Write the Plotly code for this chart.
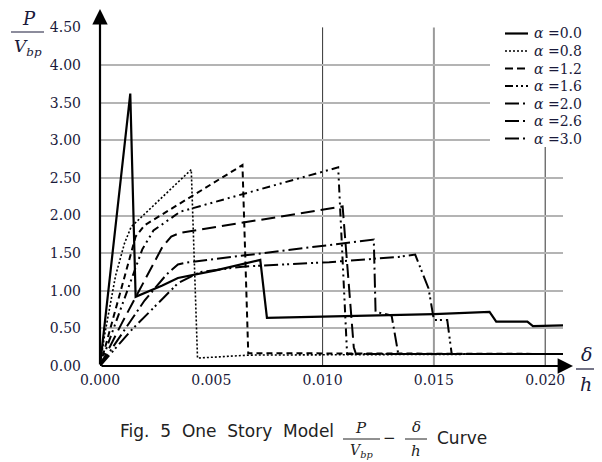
import plotly.graph_objects as go

# ---------------- data ----------------
names = ["α =0.0", "α =0.8", "α =1.2", "α =1.6", "α =2.0", "α =2.6", "α =3.0"]

x_a00 = [0, 0.00136, 0.0016, 0.0028, 0.0035, 0.0052, 0.0072, 0.0075, 0.010, 0.015, 0.0175, 0.0178, 0.0192, 0.01945, 0.0208]
y_a00 = [0, 3.62, 0.92, 1.07, 1.17, 1.27, 1.41, 0.64, 0.655, 0.69, 0.72, 0.59, 0.59, 0.53, 0.54]

x_a08 = [0, 0.0002, 0.0007, 0.0011, 0.0014, 0.0041, 0.00438, 0.0067, 0.0208]
y_a08 = [0, 0.40, 1.20, 1.63, 1.85, 2.61, 0.105, 0.145, 0.16]

x_a12 = [0, 0.0008, 0.0016, 0.0020, 0.0036, 0.0064, 0.00666, 0.0208]
y_a12 = [0, 0.85, 1.72, 1.87, 2.16, 2.67, 0.17, 0.16]

x_a16 = [0, 0.0019, 0.0024, 0.0036, 0.0107, 0.0111, 0.0208]
y_a16 = [0, 1.55, 1.80, 2.05, 2.64, 0.16, 0.16]

x_a20 = [0, 0.0010, 0.0028, 0.0032, 0.0036, 0.0109, 0.0114, 0.0115, 0.0208]
y_a20 = [0, 0.58, 1.58, 1.72, 1.77, 2.12, 0.25, 0.16, 0.16]

x_a26 = [0, 0.0020, 0.0030, 0.0035, 0.0040, 0.0123, 0.01238, 0.0131, 0.0134, 0.0208]
y_a26 = [0, 0.87, 1.22, 1.35, 1.38, 1.68, 0.72, 0.67, 0.16, 0.16]

x_a30 = [0, 0.00142, 0.0029, 0.0035, 0.0045, 0.0064, 0.0103, 0.0134, 0.01416, 0.01476, 0.0150, 0.0156, 0.0158, 0.0208]
y_a30 = [0, 0.48, 0.92, 1.10, 1.25, 1.32, 1.38, 1.45, 1.48, 1.03, 0.61, 0.61, 0.16, 0.16]

x_ticks = [0.0, 0.005, 0.010, 0.015, 0.020]
x_ticklabels = ["0.000", "0.005", "0.010", "0.015", "0.020"]
y_ticks = [0.0, 0.5, 1.0, 1.5, 2.0, 2.5, 3.0, 3.5, 4.0, 4.5]
y_ticklabels = ["0.00", "0.50", "1.00", "1.50", "2.00", "2.50", "3.00", "3.50", "4.00", "4.50"]
vgrid_x = [0.010, 0.015, 0.020]

series_x = [x_a00, x_a08, x_a12, x_a16, x_a20, x_a26, x_a30]
series_y = [y_a00, y_a08, y_a12, y_a16, y_a20, y_a26, y_a30]

dashes = ["solid", "2px,2px", "6px,4px", "8px,4px,2px,4px,2px,4px", "14px,6px",
          "14px,4px,2px,4px", "14px,4px,2px,3px,2px,4px"]
leg_dashes = ["solid", "2px,2px", "8px,4px", "8px,3px,2px,3px,2px,3px", "14px,4px,2px,4px",
              "14px,4px,2px,4px", "14px,4px,2px,4px"]
widths = [2.2, 1.6, 2.0, 2.0, 2.0, 2.0, 2.0]

# ---------------- layout helpers (page pixel coords; page has 8px body margin) ----------------
OFF = 8
W, H = 602 - OFF, 462 - OFF
L, R, T, B = 100, 563, 27, 366   # plot area in page pixels


def xp(px):
    return (px - L) / (R - L)


def yp(py):
    return (B - py) / (B - T)


TXT = "#1a1a3a"
SERIF = "DejaVu Serif"

fig = go.Figure()
for nm, xs, ys, d, w in zip(names, series_x, series_y, dashes, widths):
    fig.add_trace(go.Scatter(
        x=xs, y=ys, mode="lines", name=nm, showlegend=False,
        line=dict(color="black", width=w, dash=d),
    ))

shapes = []
vcol = ["#333333", "#9a9a9a", "#333333"]
vw = [1, 2, 1]
for vx, c, w in zip(vgrid_x, vcol, vw):
    shapes.append(dict(type="line", xref="x", yref="y", x0=vx, x1=vx, y0=0, y1=4.5,
                       line=dict(color=c, width=w), layer="below"))

# legend background (covers gridlines)
shapes.append(dict(type="rect", xref="paper", yref="paper", x0=xp(490), x1=xp(600), y0=yp(147), y1=yp(18),
                   fillcolor="white", line=dict(width=0), layer="above"))

ann = []
# manual legend
leg_y0, leg_dy = 33.5, 17.5
for i, (nm, d, w) in enumerate(zip(names, leg_dashes, widths)):
    yy = leg_y0 + i * leg_dy
    shapes.append(dict(type="line", xref="paper", yref="paper", x0=xp(505), x1=xp(528), y0=yp(yy), y1=yp(yy),
                       line=dict(color="black", width=w, dash=d), layer="above"))
    ann.append(dict(x=xp(532), y=yp(yy), xref="paper", yref="paper",
                    text="<i>α</i> =" + nm.split("=")[1], showarrow=False,
                    font=dict(family=SERIF, size=14, color=TXT), xanchor="left", yanchor="middle"))

# fraction bars
shapes.append(dict(type="line", xref="paper", yref="paper", x0=xp(11), x1=xp(44), y0=yp(32), y1=yp(32),
                   line=dict(color=TXT, width=1.2)))
shapes.append(dict(type="line", xref="paper", yref="paper", x0=xp(576), x1=xp(596), y0=yp(369), y1=yp(369),
                   line=dict(color=TXT, width=1.2)))
shapes.append(dict(type="line", xref="paper", yref="paper", x0=xp(343), x1=xp(380), y0=yp(439), y1=yp(439),
                   line=dict(color="#222222", width=1)))
shapes.append(dict(type="line", xref="paper", yref="paper", x0=xp(405), x1=xp(427), y0=yp(439), y1=yp(439),
                   line=dict(color="#222222", width=1)))

# axis arrows
ann.append(dict(x=0, xref="x", y=yp(5), yref="paper", ax=0, ay=B - 5, axref="pixel", ayref="pixel",
                text="", showarrow=True, arrowhead=2, arrowsize=1.4, arrowwidth=2.2, arrowcolor="black"))
ann.append(dict(x=xp(573), xref="paper", y=0, yref="y", ax=-(573 - L), ay=0, axref="pixel", ayref="pixel",
                text="", showarrow=True, arrowhead=2, arrowsize=1.4, arrowwidth=2.2, arrowcolor="black"))
# y title fraction
ann.append(dict(x=xp(29), y=yp(19), xref="paper", yref="paper", text="<i>P</i>", showarrow=False,
                font=dict(family=SERIF, size=18, color=TXT), xanchor="center", yanchor="middle"))
ann.append(dict(x=xp(28), y=yp(47), xref="paper", yref="paper", text="<i>V<sub>bp</sub></i>", showarrow=False,
                font=dict(family=SERIF, size=17, color=TXT), xanchor="center", yanchor="middle"))
# x title fraction
ann.append(dict(x=xp(586), y=yp(354), xref="paper", yref="paper", text="<i>δ</i>", showarrow=False,
                font=dict(family=SERIF, size=19, color=TXT), xanchor="center", yanchor="middle"))
ann.append(dict(x=xp(586), y=yp(384), xref="paper", yref="paper", text="<i>h</i>", showarrow=False,
                font=dict(family=SERIF, size=19, color=TXT), xanchor="center", yanchor="middle"))
# caption
CAP = dict(family="DejaVu Sans", size=17, color="#222222")
ann.append(dict(x=xp(336), y=yp(431), xref="paper", yref="paper",
                text="Fig. \u00a05 \u00a0One \u00a0Story \u00a0Model",
                showarrow=False, font=CAP, xanchor="right", yanchor="middle"))
ann.append(dict(x=xp(361), y=yp(428), xref="paper", yref="paper", text="<i>P</i>", showarrow=False,
                font=dict(family=SERIF, size=15, color="#222222"), xanchor="center", yanchor="middle"))
ann.append(dict(x=xp(361), y=yp(451), xref="paper", yref="paper", text="<i>V<sub>bp</sub></i>", showarrow=False,
                font=dict(family=SERIF, size=14, color="#222222"), xanchor="center", yanchor="middle"))
ann.append(dict(x=xp(389), y=yp(438), xref="paper", yref="paper", text="−", showarrow=False,
                font=dict(family=SERIF, size=15, color="#222222"), xanchor="center", yanchor="middle"))
ann.append(dict(x=xp(416), y=yp(427), xref="paper", yref="paper", text="<i>δ</i>", showarrow=False,
                font=dict(family=SERIF, size=15, color="#222222"), xanchor="center", yanchor="middle"))
ann.append(dict(x=xp(416), y=yp(451), xref="paper", yref="paper", text="<i>h</i>", showarrow=False,
                font=dict(family=SERIF, size=15, color="#222222"), xanchor="center", yanchor="middle"))
ann.append(dict(x=xp(435), y=yp(438), xref="paper", yref="paper", text="Curve",
                showarrow=False, font=CAP, xanchor="left", yanchor="middle"))

fig.update_layout(
    width=W, height=H,
    margin=dict(l=L - OFF, r=W - (R - OFF), t=T - OFF, b=H - (B - OFF), pad=0),
    plot_bgcolor="white", paper_bgcolor="white",
    shapes=shapes, annotations=ann,
    showlegend=False,
    xaxis=dict(range=[0, 0.0208], tickvals=x_ticks, ticktext=x_ticklabels, showgrid=False,
               zeroline=False, showline=False, ticks="", ticklabelstandoff=4,
               tickfont=dict(family=SERIF, size=14, color=TXT)),
    yaxis=dict(range=[0, 4.505], tickvals=y_ticks, ticktext=y_ticklabels, showgrid=True,
               gridcolor="#b4b4b4", gridwidth=1.5, zeroline=False, showline=False, ticks="",
               ticklabelstandoff=18, tickfont=dict(family=SERIF, size=14, color=TXT)),
)

fig.write_html("out.html")
